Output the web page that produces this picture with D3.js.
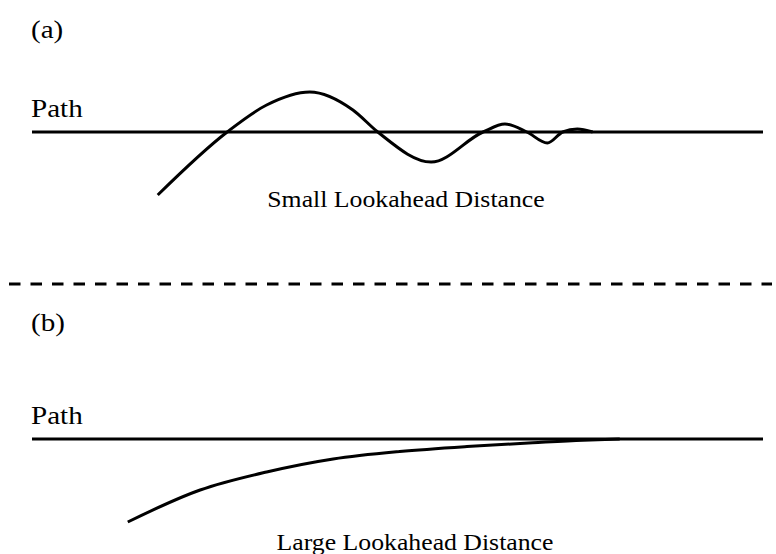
<!DOCTYPE html>
<html>
<head>
<meta charset="utf-8">
<script src="https://cdn.jsdelivr.net/npm/d3@7"></script>
<style>
  html, body { margin: 0; padding: 0; background: #fff; }
  svg { display: block; }
  text { font-family: "Liberation Serif", "Times New Roman", serif; fill: #000; }
</style>
</head>
<body>
<svg id="chart" width="776" height="554"></svg>
<script>
// Distance along the reference path (arbitrary units, 0–100)
const pathExtent = [0, 100];

// (a) small lookahead distance: vehicle oscillates about the path
const smallX = [17.2, 26.7, 32.1, 38.0, 43.9, 47.3, 54.6, 61.7, 64.7, 67.7, 70.5, 72.6, 74.6, 76.7];
const smallY = [-6.3, 0.0, 2.7, 4.0, 2.2, 0.0, -3.0, 0.0, 0.8, 0.0, -1.1, 0.0, 0.3, 0.0];

// (b) large lookahead distance: smooth convergence onto the path
const largeX = [13.1, 23.0, 32.1, 41.2, 50.3, 59.5, 68.5, 75.4, 80.4];
const largeY = [-8.3, -5.1, -3.3, -2.0, -1.25, -0.75, -0.38, -0.12, 0.0];

const panelLabels = ["(a)", "(b)"];
const pathLabel = "Path";
const captions = ["Small Lookahead Distance", "Large Lookahead Distance"];

const svg = d3.select("#chart");

const x = d3.scaleLinear().domain(pathExtent).range([32, 763]);

// one vertical scale per panel, zero offset sits on that panel's path line
const panels = [
  { label: panelLabels[0], caption: captions[0], xs: smallX, ys: smallY,
    y: d3.scaleLinear().domain([-10, 10]).range([232, 32]),
    labelY: 38, pathTextY: 117, captionX: 406, captionY: 207 },
  { label: panelLabels[1], caption: captions[1], xs: largeX, ys: largeY,
    y: d3.scaleLinear().domain([-10, 10]).range([539, 339]),
    labelY: 331, pathTextY: 424, captionX: 415, captionY: 550 }
];

function wideText(parent, tx, ty, size, sx, anchor, str) {
  parent.append("g")
    .attr("transform", `translate(${tx},${ty}) scale(${sx},1)`)
    .append("text")
    .attr("font-size", size)
    .attr("text-anchor", anchor)
    .text(str);
}

panels.forEach(p => {
  const g = svg.append("g");

  wideText(g, 31, p.labelY, 26, 1.12, "start", p.label);
  wideText(g, 31, p.pathTextY, 26, 1.12, "start", pathLabel);

  // reference path
  g.append("line")
    .attr("x1", x(pathExtent[0])).attr("x2", x(pathExtent[1]))
    .attr("y1", p.y(0)).attr("y2", p.y(0))
    .attr("stroke", "#000").attr("stroke-width", 2.8);

  // vehicle trajectory
  const pts = p.xs.map((v, i) => [v, p.ys[i]]);
  const line = d3.line()
    .x(d => x(d[0]))
    .y(d => p.y(d[1]))
    .curve(d3.curveMonotoneX);

  g.append("path")
    .attr("d", line(pts))
    .attr("fill", "none")
    .attr("stroke", "#000")
    .attr("stroke-width", 3)
    .attr("stroke-linecap", "butt");

  wideText(g, p.captionX, p.captionY, 23, 1.12, "middle", p.caption);
});

// dashed divider between the two panels
svg.append("line")
  .attr("x1", 9).attr("x2", 772)
  .attr("y1", 284).attr("y2", 284)
  .attr("stroke", "#000")
  .attr("stroke-width", 3)
  .attr("stroke-dasharray", "11.5,10");
</script>
</body>
</html>
